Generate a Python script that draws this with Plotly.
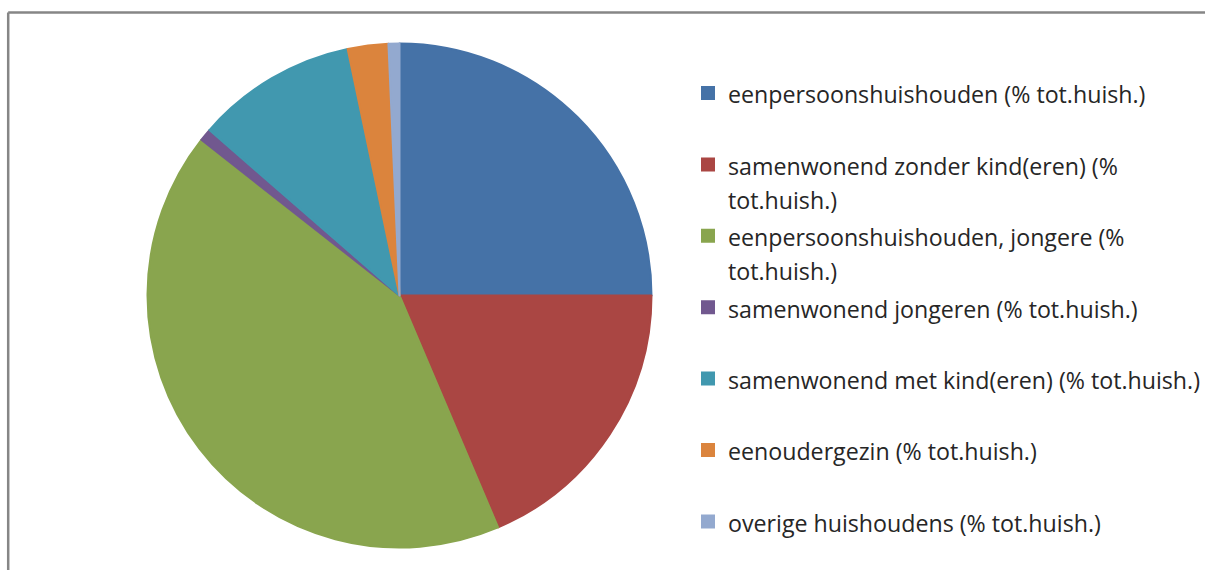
import plotly.graph_objects as go

W, H = 1205, 570

labels = [
    "eenpersoonshuishouden (% tot.huish.)",
    "samenwonend zonder kind(eren) (%<br>tot.huish.)",
    "eenpersoonshuishouden, jongere (%<br>tot.huish.)",
    "samenwonend jongeren (% tot.huish.)",
    "samenwonend met kind(eren) (% tot.huish.)",
    "eenoudergezin (% tot.huish.)",
    "overige huishoudens (% tot.huish.)",
]
values = [25.0, 18.6, 42.0, 0.8, 10.3, 2.6, 0.7]
colors = ["#4572A7", "#AA4643", "#89A54E", "#71588F", "#4198AF", "#DB843D", "#93A9CF"]

TEXT_PX = 23.2
legend_names = []
for lab in labels:
    if "<br>" in lab:
        first, second = lab.split("<br>")
        txt = (f'<span style="font-size:{TEXT_PX}px">{first}</span><br>'
               f'<span style="font-size:{TEXT_PX}px">{second}</span>')
    else:
        txt = f'<span style="font-size:{TEXT_PX}px">{lab}</span><br>&nbsp;'
    legend_names.append(txt)

# pie center / radius in page pixels
cx, cy, r = 399.5, 295.5, 252
fig = go.Figure(go.Pie(
    labels=legend_names,
    values=values,
    sort=False,
    direction="clockwise",
    rotation=0,
    textinfo="none",
    marker=dict(colors=colors, line=dict(width=2, color=colors)),
    domain=dict(x=[(cx - r) / W, (cx + r) / W], y=[1 - (cy + r) / H, 1 - (cy - r) / H]),
    hoverinfo="label+percent",
))

fx = 8.2 / W
fy = 1 - 12.5 / H
fig.update_layout(
    width=W, height=H,
    margin=dict(l=0, r=0, t=0, b=0, pad=0, autoexpand=False),
    paper_bgcolor="white",
    plot_bgcolor="white",
    font=dict(family="Open Sans, sans-serif", color="#262626"),
    legend=dict(
        x=688 / W, y=1 - 69.5 / H, xanchor="left", yanchor="top",
        font=dict(size=26.3, family="Open Sans, sans-serif", color="#262626"),
        valign="top",
        bgcolor="rgba(0,0,0,0)",
        borderwidth=0,
    ),
    shapes=[
        dict(type="line", xref="paper", yref="paper", x0=fx, x1=1.0, y0=fy, y1=fy,
             line=dict(color="#868686", width=2.5)),
        dict(type="line", xref="paper", yref="paper", x0=fx, x1=fx, y0=0, y1=fy,
             line=dict(color="#868686", width=2.5)),
    ],
)

fig.write_html(
    "out.html",
    config={"displayModeBar": False},
    post_script="document.body.style.margin='0';document.body.style.overflow='hidden';",
)
